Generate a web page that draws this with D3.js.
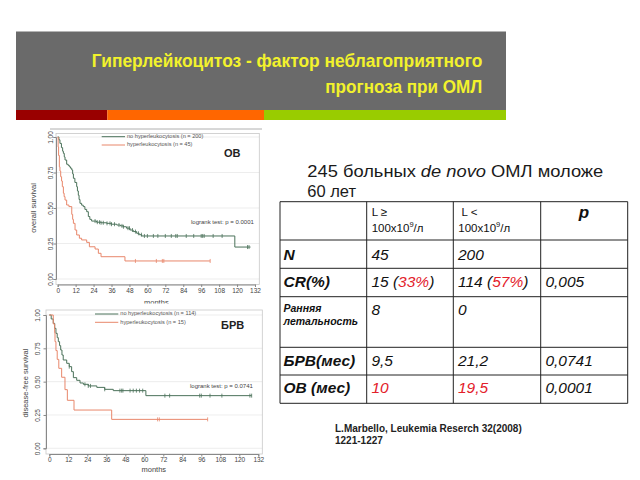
<!DOCTYPE html>
<html><head><meta charset="utf-8">
<script src="https://cdn.jsdelivr.net/npm/d3@7/dist/d3.min.js"></script>
<style>body{margin:0;background:#fff}svg{display:block}</style>
</head><body>
<script>
// ---------- DATA ----------
const titleLines = ["Гиперлейкоцитоз - фактор неблагоприятного", "прогноза при ОМЛ"];
const xTickValues = [0,12,24,36,48,60,72,84,96,108,120,132];
const yTickValues = [0,0.25,0.5,0.75,1];

// Overall survival (top chart)
const osNoTime = [0,0.8,1.5,2.5,3.3,3.8,4.4,4.9,6,7,7.8,8.6,9.4,10,10.5,11.5,12.7,13.2,13.8,14.3,14.9,16,17.1,18.2,19.4,20.5,21.5,22.7,26,29,32.8,36,39.5,42,43.9,46,48.4,50.5,52.8,54.5,56.2,118.5,129];
const osNoSurv = [1,0.98,0.955,0.925,0.9,0.885,0.86,0.838,0.808,0.8,0.79,0.78,0.768,0.74,0.709,0.68,0.65,0.62,0.59,0.56,0.533,0.52,0.51,0.49,0.474,0.44,0.42,0.408,0.4,0.396,0.392,0.386,0.38,0.374,0.368,0.358,0.345,0.334,0.322,0.312,0.303,0.225,0.225];
const osNoCens = [25,26.5,28,29,30.5,33,35,36,38,41,43,44,47,48,50,52,54,56,58,60,64,67,72,76,79,80,86,91,96,97,98,104,110,127,128];
const osHyTime = [0,0.3,0.6,1.1,1.5,2,2.6,3.1,3.8,4.3,4.9,6,7.5,9.4,10,10.5,11.6,12.7,14.5,16,19.4,21.2,25,27.2,29,45,102];
const osHySurv = [1,0.93,0.87,0.79,0.76,0.72,0.69,0.65,0.604,0.58,0.556,0.521,0.51,0.455,0.42,0.392,0.345,0.31,0.287,0.275,0.258,0.227,0.211,0.181,0.157,0.127,0.127];
const osHyCens = [52,66,70,71,102];

// Disease-free survival (bottom chart)
const dfsNoTime = [0,1.2,2.5,3.4,4.2,5,5.7,6.5,7.2,8,8.8,11,12.6,14.1,15.2,17.3,19.4,21.5,24.6,30,35,40.4,61,127.8];
const dfsNoSurv = [1,0.97,0.9375,0.9,0.8625,0.83,0.8,0.77,0.7375,0.7,0.6625,0.6375,0.6125,0.575,0.53,0.51,0.49,0.48,0.468,0.457,0.4425,0.4325,0.395,0.395];
const dfsNoCens = [12.6,22.5,24.6,26,35,44.6,45.7,46.5,51,53,55,57,59,73,76,95,96,101.5,109,126.7,127.8];
const dfsHyTime = [0,2.5,3.4,3.6,4.2,5,6,7.8,9.9,11.4,15.6,39.4,100];
const dfsHySurv = [1,0.933,0.867,0.8,0.733,0.667,0.6,0.533,0.44,0.36,0.287,0.217,0.217];
const dfsHyCens = [68.4,69.5,100];

// Table
const tableHead = ["", "L ≥|100x10⁹/л", " L <|100x10⁹/л", "p"];
const rowLabels = ["N","CR(%)","Ранняя|летальность","БРВ(мес)","ОВ (мес)"];
const colHyper = ["45","15 ([33%])","8","9,5","[10]"];
const colNormal = ["200","114 ([57%])","0","21,2","[19,5]"];
const colP = ["","0,005","","0,0741","0,0001"];

// ---------- DRAW ----------
const W=640,H=480;
const FONT = "'Liberation Sans', Arial, Helvetica, sans-serif";
const svg = d3.select("body").append("svg").attr("width",W).attr("height",H).style("font-family",FONT);
svg.append("rect").attr("width",W).attr("height",H).attr("fill","#fff");

// Title band
svg.append("rect").attr("x",16).attr("y",31.5).attr("width",490).attr("height",78.5).attr("fill","#6a6a6a");
[[16,107.3,"#990000"],[107.3,264,"#ff6600"],[264,506,"#99cc00"]].forEach(s=>{
  svg.append("rect").attr("x",s[0]).attr("y",110).attr("width",s[1]-s[0]).attr("height",10).attr("fill",s[2]);
});
const tW = [390.5,157];
titleLines.forEach((t,i)=>{
  svg.append("text").attr("x",482.3).attr("y",[66.7,92.7][i]).attr("text-anchor","end")
    .attr("font-size",18.5).attr("font-weight","bold").attr("fill","#f2f22c")
    .attr("textLength",tW[i]).attr("lengthAdjust","spacingAndGlyphs").text(t);
});

function survAt(times, surv, t){
  const i = d3.bisectRight(times, t) - 1;
  return surv[Math.max(0,i)];
}

function kmChart(cfg){
  const g = svg.append("g");
  g.append("rect").attr("x",cfg.bg[0]).attr("y",cfg.bg[1]).attr("width",cfg.bg[2]).attr("height",cfg.bg[3]).attr("fill","#fff");
  const x = d3.scaleLinear().domain([0,132]).range(cfg.xr);
  const y = d3.scaleLinear().domain([0,1]).range(cfg.yr);
  const f = cfg.frame; // [x0,y0,x1,y1]
  // gridlines
  g.selectAll(".grid").data(yTickValues).join("line")
    .attr("x1",f[0]).attr("x2",f[2]).attr("y1",d=>y(d)).attr("y2",d=>y(d))
    .attr("stroke","#e8e8e8").attr("stroke-width",0.8);
  g.append("rect").attr("x",f[0]).attr("y",f[1]).attr("width",f[2]-f[0]).attr("height",f[3]-f[1])
    .attr("fill","none").attr("stroke","#c8c8c8").attr("stroke-width",0.8);
  // y axis
  const ya = g.append("g").attr("transform",`translate(${f[0]},0)`)
    .call(d3.axisLeft(y).tickValues(yTickValues).tickFormat(d3.format(".2f")).tickSize(2.5).tickPadding(1));
  ya.select(".domain").attr("stroke","#888");
  ya.selectAll(".tick line").attr("stroke","#888");
  ya.selectAll(".tick text").attr("font-size",6.5).attr("fill","#444").attr("font-family",FONT)
    .attr("text-anchor","middle").attr("x",0).attr("dy",0)
    .attr("transform",`translate(${cfg.ylabOff},0) rotate(-90)`).attr("dominant-baseline","middle");
  // x axis
  const xa = g.append("g").attr("transform",`translate(0,${f[3]})`)
    .call(d3.axisBottom(x).tickValues(xTickValues).tickSize(2.5).tickPadding(cfg.xpad));
  xa.select(".domain").attr("stroke","#888");
  xa.selectAll(".tick line").attr("stroke","#888");
  xa.selectAll(".tick text").attr("font-size",6.5).attr("fill","#444").attr("font-family",FONT);
  g.append("text").attr("x",(cfg.xr[0]+cfg.xr[1])/2).attr("y",cfg.monthsY).attr("text-anchor","middle")
    .attr("font-size",7.5).attr("fill","#444").text("months");
  g.append("text").attr("transform",`translate(${cfg.ytitleX},${cfg.ytitleY}) rotate(-90)`)
    .attr("text-anchor","middle").attr("dominant-baseline","middle").attr("font-size",7.5).attr("fill","#444").text(cfg.ytitle);
  // curves
  const line = d3.line().x(d=>x(d[0])).y(d=>y(d[1])).curve(d3.curveStepAfter);
  cfg.series.forEach(s=>{
    const pts = s.t.map((t,i)=>[t,s.s[i]]);
    g.append("path").attr("d",line(pts)).attr("fill","none").attr("stroke",s.color).attr("stroke-width",1);
    g.selectAll(null).data(s.c).join("line")
      .attr("x1",d=>x(d)).attr("x2",d=>x(d))
      .attr("y1",d=>y(survAt(s.t,s.s,d))-2).attr("y2",d=>y(survAt(s.t,s.s,d))+2)
      .attr("stroke",s.color).attr("stroke-width",0.8);
  });
  // legend
  cfg.series.forEach((s,i)=>{
    const ly = cfg.legY[i];
    g.append("line").attr("x1",cfg.legX[0]).attr("x2",cfg.legX[1]).attr("y1",ly).attr("y2",ly).attr("stroke",s.color).attr("stroke-width",1);
    g.append("text").attr("x",cfg.legX[1]+2).attr("y",ly).attr("dominant-baseline","middle")
      .attr("font-size",5.6).attr("fill","#555").text(s.label);
  });
  g.append("text").attr("x",cfg.tag[0]).attr("y",cfg.tag[1]).attr("font-size",11).attr("font-weight","bold")
    .attr("fill","#222").attr("dominant-baseline","middle").text(cfg.tagText);
  g.append("text").attr("x",cfg.lr[0]).attr("y",cfg.lr[1]).attr("font-size",6).attr("fill","#444")
    .attr("dominant-baseline","middle").text(cfg.lrText);
  return g;
}

const GREEN = "#4b725a", RED = "#e8876b";
// top chart
svg.append("line").attr("x1",50).attr("x2",262).attr("y1",129).attr("y2",129).attr("stroke","#b0b0b0").attr("stroke-width",1);
kmChart({bg:[30,130,246,176], xr:[57.7,255], yr:[279,137], frame:[56,133.5,259.3,284.5],
  ylabOff:-5, xpad:1.5, monthsY:305, ytitle:"overall survival", ytitleX:34, ytitleY:208,
  legX:[101.7,125], legY:[136.7,145], tag:[224,154], tagText:"ОВ",
  lr:[191,222.7], lrText:"logrank test: p = 0.0001",
  series:[{t:osNoTime,s:osNoSurv,c:osNoCens,color:GREEN,label:"no hyperleukocytosis (n = 200)"},
          {t:osHyTime,s:osHySurv,c:osHyCens,color:RED,label:"hyperleukocytosis (n = 45)"}]});
// bottom chart
kmChart({bg:[20,303.5,256,174], xr:[49.3,258.3], yr:[448.3,315], frame:[46,310,262.3,454],
  ylabOff:-7.5, xpad:1, monthsY:472, ytitle:"disease-free survival", ytitleX:26, ytitleY:383,
  legX:[95,118.3], legY:[314,322.3], tag:[221,325.7], tagText:"БРВ",
  lr:[190,386.7], lrText:"logrank test: p = 0.0741",
  series:[{t:dfsNoTime,s:dfsNoSurv,c:dfsNoCens,color:GREEN,label:"no hyperleukocytosis (n = 114)"},
          {t:dfsHyTime,s:dfsHySurv,c:dfsHyCens,color:RED,label:"hyperleukocytosis (n = 15)"}]});

// Subtitle
const sub = svg.append("text").attr("x",307.3).attr("y",176.7).attr("font-size",16.5).attr("fill","#1a1a1a")
  .attr("textLength",296).attr("lengthAdjust","spacingAndGlyphs");
sub.append("tspan").text("245 больных ");
sub.append("tspan").attr("font-style","italic").text("de novo");
sub.append("tspan").text(" ОМЛ моложе");
svg.append("text").attr("x",307.3).attr("y",196.7).attr("font-size",16.5).attr("fill","#1a1a1a").text("60 лет");

// Table
const colX = [280,366.7,453.3,540.7,627.7];
const rowY = [201.7,240,268.3,296.7,347.3,375,403.3];
const tg = svg.append("g");
tg.selectAll(".h").data(rowY).join("line").attr("x1",colX[0]).attr("x2",colX[4]).attr("y1",d=>d).attr("y2",d=>d).attr("stroke","#222").attr("stroke-width",1);
tg.selectAll(".v").data(colX).join("line").attr("y1",rowY[0]).attr("y2",rowY[6]).attr("x1",d=>d).attr("x2",d=>d).attr("stroke","#222").attr("stroke-width",1);
// header
[1,2].forEach(ci=>{
  const parts = tableHead[ci].split("|");
  const tx = tg.append("text").attr("x",colX[ci]+5).attr("y",216).attr("font-size",11.5).attr("fill","#111").attr("xml:space","preserve");
  tx.text(parts[0]);
  const t2 = tg.append("text").attr("x",colX[ci]+5).attr("y",231.7).attr("font-size",11.5).attr("fill","#111");
  const m = parts[1].split("⁹");
  t2.append("tspan").text(m[0]);
  t2.append("tspan").attr("font-size",7.5).attr("dy",-4.5).text("9");
  t2.append("tspan").attr("dy",4.5).text(m[1]);
});
tg.append("text").attr("x",584).attr("y",218.3).attr("text-anchor","middle").attr("font-size",17)
  .attr("font-weight","bold").attr("font-style","italic").attr("fill","#111").text(tableHead[3]);

function richText(sel, str){
  str.split(/(\[[^\]]*\])/).filter(s=>s.length).forEach(p=>{
    if(p[0]==="["){ sel.append("tspan").attr("fill","#e3202a").text(p.slice(1,-1)); }
    else sel.append("tspan").text(p);
  });
}
const baseOff = [20,19,18.3,18.7,18.3];
rowLabels.forEach((lab,ri)=>{
  const y0 = rowY[ri+1], by = y0+baseOff[ri];
  if(lab.includes("|")){
    lab.split("|").forEach((l,k)=>{
      tg.append("text").attr("x",colX[0]+3.5).attr("y",y0+15+k*13.3).attr("font-size",10.5)
        .attr("font-weight","bold").attr("font-style","italic").attr("fill","#111").text(l);
    });
  } else {
    tg.append("text").attr("x",colX[0]+3.5).attr("y",by).attr("font-size",15.5)
      .attr("font-weight","bold").attr("font-style","italic").attr("fill","#111").text(lab);
  }
  [colHyper[ri],colNormal[ri],colP[ri]].forEach((v,ci)=>{
    const t = tg.append("text").attr("x",colX[ci+1]+4.7).attr("y",by).attr("font-size",15.5)
      .attr("font-style","italic").attr("fill","#111");
    richText(t,v);
  });
});

// reference
svg.append("text").attr("x",335).attr("y",431.7).attr("font-size",10).attr("font-weight","bold").attr("fill","#222")
  .text("L.Marbello, Leukemia Reserch 32(2008)");
svg.append("text").attr("x",335).attr("y",444.3).attr("font-size",10).attr("font-weight","bold").attr("fill","#222")
  .text("1221-1227");
</script>
</body></html>
